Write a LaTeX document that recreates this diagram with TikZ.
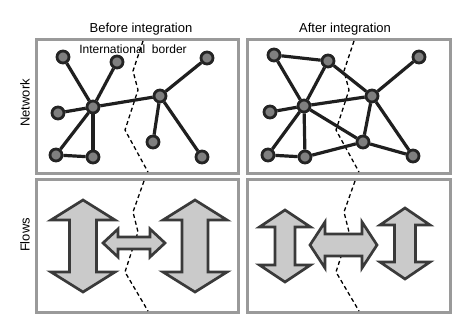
\documentclass[tikz,border=0pt]{standalone}
\usepackage{fontspec}
\setmainfont{Liberation Sans}
\definecolor{framegrey}{HTML}{9A9A9A}
\definecolor{hubfill}{HTML}{7F7F7F}
\definecolor{hubink}{HTML}{242424}
\definecolor{flowfill}{HTML}{CACACA}
\definecolor{flowink}{HTML}{3A3A3A}

\begin{document}
\begin{tikzpicture}[x=1pt, y=-1pt, font=\fontsize{13}{15}\selectfont,
  frame/.style={draw=framegrey, line width=3pt},
  hub/.style={circle, fill=hubfill, draw=hubink, line width=2.8pt,
    minimum size=12pt, inner sep=0pt},
  link/.style={draw=black!88, line width=3.2pt},
  borderline/.style={draw=black, line width=1.3pt, dash pattern=on 4pt off 3pt},
  flowshape/.style={fill=flowfill, draw=flowink, line width=2.7pt, line join=miter}]
  \useasboundingbox (0,0) rectangle (473,323);
  % panels
  \foreach \px/\qx in {36/238, 247/450}{%
    \foreach \py/\qy in {40/173, 179/312}{%
      \draw[frame] (\px,\py) rectangle (\qx,\qy);}}
  % titles
  \node (before) at (141,29) {Before integration};
  \node (after) at (345,29) {After integration};
  \node[rotate=90] (network) at (25,103) {Network};
  \node[rotate=90] (flows) at (25,235) {Flows};
  % borders
  \foreach \dx in {0,211}{%
    \draw[borderline] (143+\dx,41) -- (133+\dx,71) -- (138+\dx,90)
      -- (125+\dx,130) -- (148+\dx,172);
    \draw[borderline] (144+\dx,181) -- (133+\dx,212) -- (138+\dx,232)
      -- (125+\dx,272) -- (148+\dx,311);}
  \node[font=\fontsize{12}{14}\selectfont] (borderlab) at (133,49)
    {International\ \ border};
  % network before
  \foreach \name/\x/\y in {a1/63/57, a2/117/62, a3/207/58, aA/93/107, a5/58/113,
    aB/160/96, a7/153/142, a8/56/155, a9/93/157, a10/202/157}{%
    \node[hub] (\name) at (\x,\y) {};}
  \foreach \s/\t in {a1/aA, a2/aA, a5/aA, aA/aB, aA/a8, aA/a9, a8/a9,
    aB/a3, aB/a7, aB/a10}{%
    \draw[link] (\s) -- (\t);}
  % network after
  \foreach \name/\x/\y in {b1/274/55, b2/328/61, b3/419/57, bB/372/96, bA/304/106,
    b5/270/112, bC/363/142, b8/268/155, b9/305/157, b10/413/156}{%
    \node[hub] (\name) at (\x,\y) {};}
  \foreach \s/\t in {b1/b2, b1/bA, b2/bA, b2/bB, bB/b3, bA/bB, b5/bA, bA/b8,
    bA/b9, b8/b9, bA/bC, bB/bC, b9/bC, bB/b10, bC/b10}{%
    \draw[link] (\s) -- (\t);}
  % flows
  \foreach \cx/\cy/\len/\hw/\sw/\hl/\rot in {83/246/92/64/27/20/90,
    195/246/92/64/26/20/90, 134/243/62/28/12/15/0,
    285/246/72/51/20/17/90, 405/243.5/71/50/21/17/90, 343.5/245/67/46/22/15/0}{%
    \pgfmathsetmacro{\L}{\len/2}
    \pgfmathsetmacro{\H}{\hw/2}
    \pgfmathsetmacro{\S}{\sw/2}
    \pgfmathsetmacro{\B}{\len/2-\hl}
    \begin{scope}[shift={(\cx,\cy)}, rotate=\rot]
      \draw[flowshape] (-\L,0) -- (-\B,\H) -- (-\B,\S) -- (\B,\S) -- (\B,\H)
        -- (\L,0) -- (\B,-\H) -- (\B,-\S) -- (-\B,-\S) -- (-\B,-\H) -- cycle;
    \end{scope}}
\end{tikzpicture}
\end{document}
